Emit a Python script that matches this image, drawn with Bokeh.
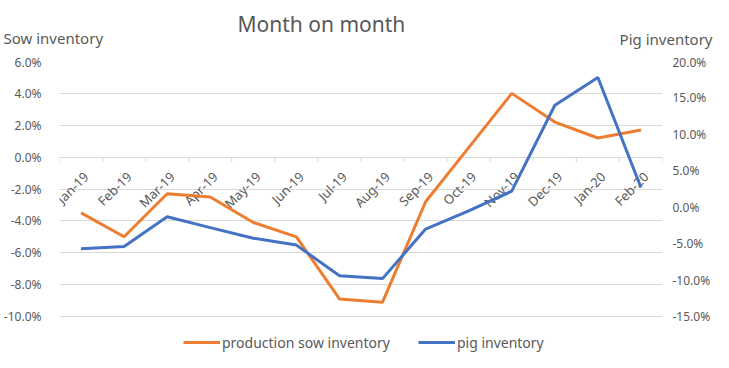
import math
from bokeh.plotting import figure
from bokeh.layouts import column
from bokeh.models import (Range1d, LinearAxis, FixedTicker, PrintfTickFormatter,
                          Legend, LegendItem, ColumnDataSource)
from bokeh.core.properties import value
from bokeh.embed import file_html
from bokeh.resources import INLINE

months = ["Jan-19", "Feb-19", "Mar-19", "Apr-19", "May-19", "Jun-19", "Jul-19",
          "Aug-19", "Sep-19", "Oct-19", "Nov-19", "Dec-19", "Jan-20", "Feb-20"]
sow = [-3.5, -5.0, -2.3, -2.5, -4.1, -5.0, -8.9, -9.1, -2.8, 0.6, 4.0, 2.2, 1.2, 1.7]
pig = [-5.7, -5.4, -1.3, -2.8, -4.25, -5.2, -9.4, -9.8, -3.0, -0.5, 2.2, 14.0, 17.8, 2.7]
left_ticks = [-10, -8, -6, -4, -2, 0, 2, 4, 6]
right_ticks = [-15, -10, -5, 0, 5, 10, 15, 20]

FONT = "Noto Sans"
GRAY = "#595959"
GRID = "#D9D9D9"
ORANGE = "#ED7D31"
BLUE = "#4472C4"

W = 713
HEAD_H = 53
MAIN_H = 352 - HEAD_H
TOP = 8           # main figure top border
BOTTOM_EXTRA = 36  # frame space below the lowest gridline (for the legend)

# ---------- header with title and axis titles ----------
h = figure(width=W, height=HEAD_H, output_backend="svg", toolbar_location=None,
           x_range=Range1d(0, W), y_range=Range1d(HEAD_H, 0),
           x_axis_location=None, y_axis_location=None, min_border=0,
           frame_align=False)
h.outline_line_color = None
h.grid.visible = False
h.text(x=[237], y=[23], text=["Month on month"], text_font=value(FONT),
       text_font_size="21px", text_color=GRAY, text_baseline="alphabetic")
h.text(x=[3], y=[37], text=["Sow inventory"], text_font=value(FONT),
       text_font_size="15px", text_color=GRAY, text_baseline="alphabetic")
h.text(x=[712], y=[38], text=["Pig inventory"], text_font=value(FONT),
       text_font_size="15px", text_color=GRAY, text_baseline="alphabetic",
       text_align="right")

# ---------- main chart ----------
frame_h = MAIN_H - TOP
grid_h = frame_h - BOTTOM_EXTRA
lpx = grid_h / (left_ticks[-1] - left_ticks[0])
rpx = grid_h / (right_ticks[-1] - right_ticks[0])

idx = list(range(len(months)))

p = figure(width=W, height=MAIN_H, output_backend="svg", toolbar_location=None,
           x_range=Range1d(-0.5, len(months) - 0.5),
           y_range=Range1d(left_ticks[-1] - frame_h / lpx, left_ticks[-1]),
           x_axis_location=None, y_axis_location="left",
           min_border_left=58, min_border_right=49,
           min_border_top=TOP, min_border_bottom=0, frame_align=False)
p.outline_line_color = None
p.xgrid.visible = False

yax = p.yaxis[0]
yax.ticker = FixedTicker(ticks=left_ticks)
yax.formatter = PrintfTickFormatter(format="%.1f%%")
yax.axis_line_color = None
yax.major_tick_line_color = None
yax.minor_tick_line_color = None
yax.major_label_standoff = 12
yax.major_label_text_font = FONT
yax.major_label_text_font_size = "12px"
yax.major_label_text_color = GRAY

p.ygrid.ticker = FixedTicker(ticks=left_ticks)
p.ygrid.grid_line_color = GRID
p.ygrid.grid_line_width = 1

p.extra_y_ranges = {"pig": Range1d(right_ticks[-1] - frame_h / rpx, right_ticks[-1])}
rax = LinearAxis(y_range_name="pig", ticker=FixedTicker(ticks=right_ticks),
                 formatter=PrintfTickFormatter(format="%.1f%%"))
rax.axis_line_color = None
rax.major_tick_line_color = None
rax.minor_tick_line_color = None
rax.major_label_standoff = 4
rax.major_label_text_font = FONT
rax.major_label_text_font_size = "12px"
rax.major_label_text_color = GRAY
p.add_layout(rax, "right")

# category boundary ticks on the zero line
bounds = [i - 0.5 for i in range(len(months) + 1)]
p.segment(x0=bounds, y0=[0] * len(bounds), x1=bounds, y1=[-5 / lpx] * len(bounds),
          line_color=GRID, line_width=1)

# category labels
src = ColumnDataSource(dict(x=idx, y=[0] * len(idx), t=months))
p.text(x="x", y="y", text="t", source=src, angle=math.pi / 4,
       text_align="right", text_baseline="middle", x_offset=5, y_offset=17,
       text_font=value(FONT), text_font_size="13px", text_color=GRAY)

r_sow = p.line(idx, sow, line_color=ORANGE, line_width=3)
r_pig = p.line(idx, pig, line_color=BLUE, line_width=3, y_range_name="pig")

legend = Legend(items=[LegendItem(label="production sow inventory", renderers=[r_sow]),
                       LegendItem(label="pig inventory", renderers=[r_pig])],
                orientation="horizontal", location=(124, 0),
                padding=0, margin=0, spacing=28, glyph_width=37, glyph_height=20,
                label_standoff=2, label_text_font=FONT, label_text_font_size="14px",
                label_text_color=GRAY, border_line_color=None,
                background_fill_alpha=0)
p.add_layout(legend, "center")

layout = column(h, p, spacing=0)
open("out.html", "w").write(file_html(layout, INLINE))
